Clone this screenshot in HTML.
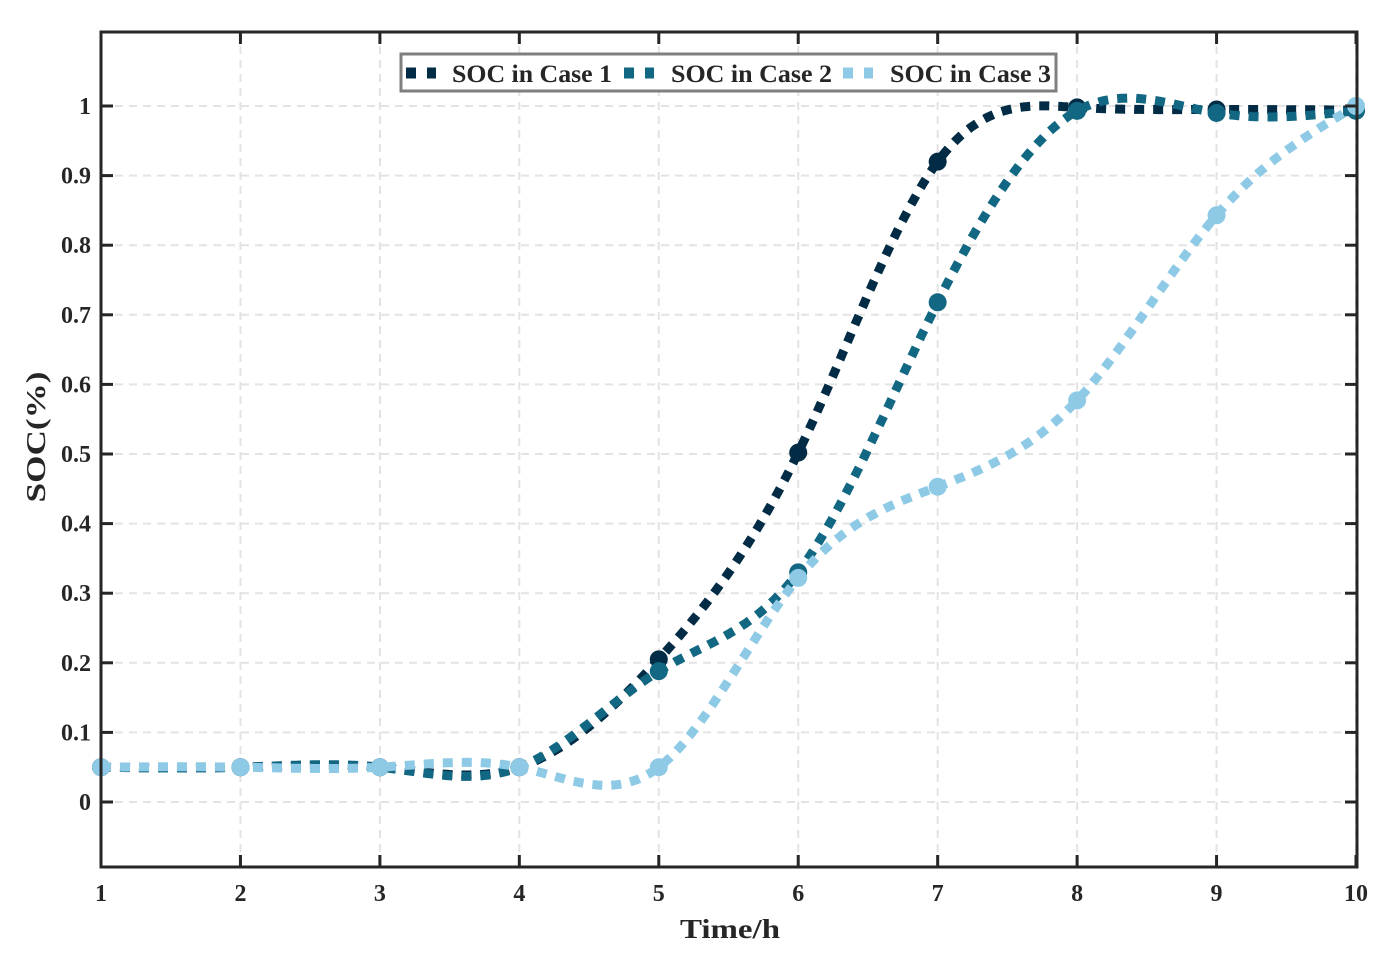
<!DOCTYPE html>
<html><head><meta charset="utf-8"><style>
body{margin:0;background:#fff;}
svg text{font-family:"Liberation Serif",serif;font-weight:bold;fill:#262626;}
</style></head><body>
<svg id="chart" width="1393" height="965" xmlns="http://www.w3.org/2000/svg">
<g id="grid"></g>
<g id="series"></g>
<rect x="101" y="32" width="1256" height="835" fill="none" stroke="#262626" stroke-width="3"/>
<g id="ticks"></g>
<text x="680" y="938" font-size="27" textLength="100" lengthAdjust="spacingAndGlyphs">Time/h</text>
<text x="0" y="0" font-size="27" text-anchor="middle" textLength="131" lengthAdjust="spacingAndGlyphs" transform="translate(45,437) rotate(-90)">SOC(%)</text>
<g>
<rect x="401" y="54" width="655" height="37" fill="#fff" stroke="#7f7f7f" stroke-width="3"/>
<line x1="406" y1="73" x2="436" y2="73" stroke="#022b45" stroke-width="11" stroke-dasharray="10,11"/>
<text x="452" y="82" font-size="25" textLength="160" lengthAdjust="spacingAndGlyphs">SOC in Case 1</text>
<line x1="624" y1="73" x2="654" y2="73" stroke="#126782" stroke-width="11" stroke-dasharray="10,11"/>
<text x="671" y="82" font-size="25" textLength="161" lengthAdjust="spacingAndGlyphs">SOC in Case 2</text>
<line x1="843" y1="73" x2="873" y2="73" stroke="#8ecae6" stroke-width="11" stroke-dasharray="10,11"/>
<text x="890" y="82" font-size="25" textLength="161" lengthAdjust="spacingAndGlyphs">SOC in Case 3</text>
</g>
</svg>
<script>
const hours=[1,2,3,4,5,6,7,8,9,10];
const case1=[0.05,0.05,0.05,0.05,0.205,0.502,0.92,0.998,0.995,0.994];
const case2=[0.05,0.05,0.05,0.05,0.188,0.33,0.718,0.993,0.99,0.993];
const case3=[0.05,0.05,0.05,0.05,0.05,0.322,0.453,0.577,0.843,1.0];
const xTicks=[1,2,3,4,5,6,7,8,9,10];
const yTicks=[0,0.1,0.2,0.3,0.4,0.5,0.6,0.7,0.8,0.9,1];
const NS="http://www.w3.org/2000/svg";
const X=v=>101+(v-1)*(1356-101)/9;
const Y=v=>802-v*696;
function mk(t,a,p){const e=document.createElementNS(NS,t);for(const k in a)e.setAttribute(k,a[k]);p.appendChild(e);return e;}
const grid=document.getElementById('grid'),ticks=document.getElementById('ticks'),ser=document.getElementById('series');
xTicks.forEach(t=>{
 const g=mk('line',{x1:X(t),x2:X(t),y1:32,y2:867,stroke:'#e3e3e3','stroke-width':2,'stroke-dasharray':'8,6'},grid);
 
 mk('line',{x1:X(t),x2:X(t),y1:867,y2:855,stroke:'#262626','stroke-width':3},ticks);
 mk('line',{x1:X(t),x2:X(t),y1:32,y2:44,stroke:'#262626','stroke-width':3},ticks);
 const l=mk('text',{x:X(t),y:901,'font-size':24,'text-anchor':'middle'},ticks);l.textContent=t;
 
});
yTicks.forEach(t=>{
 const g=mk('line',{x1:101,x2:1357,y1:Y(t),y2:Y(t),stroke:'#e3e3e3','stroke-width':2,'stroke-dasharray':'8,6'},grid);
 
 mk('line',{x1:101,x2:113,y1:Y(t),y2:Y(t),stroke:'#262626','stroke-width':3},ticks);
 mk('line',{x1:1357,x2:1345,y1:Y(t),y2:Y(t),stroke:'#262626','stroke-width':3},ticks);
 const l=mk('text',{x:91,y:Y(t)+8,'font-size':24,'text-anchor':'end'},ticks);l.textContent=String(t);
 
});
function spline(xs,ys){
 const n=xs.length,h=[],a=[],l=[1],mu=[0],z=[0],c=new Array(n).fill(0),b=[],d=[];
 for(let i=0;i<n-1;i++)h[i]=xs[i+1]-xs[i];
 for(let i=1;i<n-1;i++)a[i]=3/h[i]*(ys[i+1]-ys[i])-3/h[i-1]*(ys[i]-ys[i-1]);
 for(let i=1;i<n-1;i++){l[i]=2*(xs[i+1]-xs[i-1])-h[i-1]*mu[i-1];mu[i]=h[i]/l[i];z[i]=(a[i]-h[i-1]*z[i-1])/l[i];}
 l[n-1]=1;z[n-1]=0;
 for(let j=n-2;j>=0;j--){c[j]=z[j]-mu[j]*c[j+1];b[j]=(ys[j+1]-ys[j])/h[j]-h[j]*(c[j+1]+2*c[j])/3;d[j]=(c[j+1]-c[j])/(3*h[j]);}
 return x=>{let i=Math.min(n-2,Math.max(0,Math.floor(x-xs[0])));const t=x-xs[i];return ys[i]+b[i]*t+c[i]*t*t+d[i]*t*t*t;};
}
[[case1,'#022b45','case1'],[case2,'#126782','case2'],[case3,'#8ecae6','case3']].forEach(([vals,col,nm])=>{
 const f=spline(hours,vals);let d='';
 for(let x=1;x<=10.0001;x+=0.02)d+=(d?'L':'M')+X(x).toFixed(1)+','+Y(f(x)).toFixed(1);
 const p=mk('path',{d:d,fill:'none',stroke:col,'stroke-width':9,'stroke-dasharray':'10,9'},ser);
 
 hours.forEach((h,i)=>{
  const c=mk('circle',{cx:X(h),cy:Y(vals[i]),r:9,fill:col},ser);
  
 });
});
</script>
</body></html>
